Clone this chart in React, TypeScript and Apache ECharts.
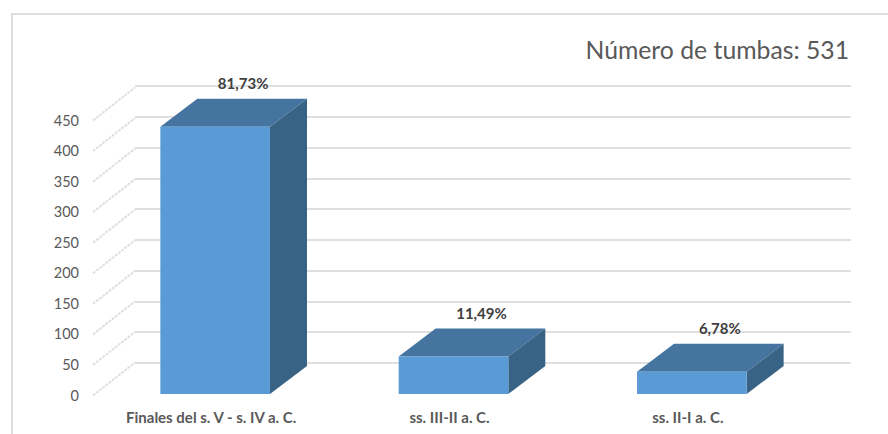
import React, { useEffect, useRef } from "react";
import * as echarts from "echarts";

const categories = ["Finales del s. V - s. IV a. C.", "ss. III-II a. C.", "ss. II-I a. C."];
const tumbas = [434, 61, 36];
const percentLabels = ["81,73%", "11,49%", "6,78%"];
const titleText = "Número de tumbas: 531";
const yTicks = [0, 50, 100, 150, 200, 250, 300, 350, 400, 450];

const FONT = "Lato, 'Open Sans', sans-serif";
const TEXT = "#595959";
const FRONT = "#5b9bd5";
const TOP = "#44749f";
const SIDE = "#396385";
const GRID = "#e0e0e0";

// Oblique offset of the bar boxes and of the floor/wall diagonals.
const BAR_DX = 37;
const BAR_DY = 28;
const BAR_RATIO = 0.46;

export default function App() {
  const ref = useRef<HTMLDivElement>(null);

  useEffect(() => {
    const chart = echarts.init(ref.current!, undefined, { renderer: "svg" });

    const renderBar = (params: any, api: any) => {
      const i = api.value(0);
      const [cx, yTop] = api.coord([i, api.value(1)]);
      const [, yBase] = api.coord([i, 0]);
      const w = api.size([1, 0])[0] * BAR_RATIO;
      const l = cx - w / 2;
      const r = cx + w / 2;
      return {
        type: "group",
        children: [
          {
            type: "polygon",
            shape: { points: [[l, yTop], [r, yTop], [r + BAR_DX, yTop - BAR_DY], [l + BAR_DX, yTop - BAR_DY]] },
            style: { fill: TOP },
          },
          {
            type: "polygon",
            shape: { points: [[r, yTop], [r + BAR_DX, yTop - BAR_DY], [r + BAR_DX, yBase - BAR_DY], [r, yBase]] },
            style: { fill: SIDE },
          },
          { type: "rect", shape: { x: l, y: yTop, width: w, height: yBase - yTop }, style: { fill: FRONT } },
          {
            type: "text",
            style: {
              x: cx + 28,
              y: yTop - 43.5,
              text: percentLabels[params.dataIndex],
              align: "center",
              verticalAlign: "middle",
              font: `bold 15px ${FONT}`,
              fill: "#404040",
            },
          },
        ],
      };
    };

    const renderDiagonal = (params: any, api: any) => {
      const y = api.coord([0, api.value(0)])[1];
      const x = params.coordSys.x;
      return {
        type: "line",
        shape: { x1: x - 3, y1: y + 0.5, x2: x + 39, y2: y - 32.5 },
        style: { stroke: GRID, lineWidth: 2, lineDash: [3, 1] },
      };
    };

    chart.setOption({
      animation: false,
      backgroundColor: "#ffffff",
      title: {
        text: titleText,
        right: 34,
        top: 32,
        textStyle: { fontFamily: FONT, fontSize: 24.75, fontWeight: "normal", color: TEXT },
      },
      // Front plane with the tick labels, back wall with the gridlines, and the plane the boxes stand on.
      grid: [
        { left: 96, right: 77, top: 120, bottom: 39 },
        { left: 135, right: 37, top: 86, bottom: 71 },
        { left: 96, right: 77, top: 117, bottom: 40 },
      ],
      xAxis: [
        {
          type: "category",
          data: categories,
          gridIndex: 0,
          axisLine: { show: false },
          axisTick: { show: false },
          axisLabel: {
            margin: 14,
            padding: [0, 8, 0, 0],
            alignMinLabel: "center",
            alignMaxLabel: "center",
            fontFamily: FONT,
            fontSize: 15,
            fontWeight: "bold",
            color: TEXT,
            interval: 0,
          },
        },
        { type: "category", data: categories, gridIndex: 1, show: false },
        { type: "category", data: categories, gridIndex: 2, show: false },
      ],
      yAxis: [
        {
          type: "value",
          gridIndex: 0,
          min: 0,
          max: 450,
          interval: 50,
          axisLine: { show: false },
          axisTick: { show: false },
          splitLine: { show: false },
          axisLabel: { margin: 17, fontFamily: FONT, fontSize: 14.5, color: TEXT },
        },
        {
          type: "value",
          gridIndex: 1,
          min: 0,
          max: 450,
          interval: 50,
          axisLine: { show: false },
          axisTick: { show: false },
          axisLabel: { show: false },
          splitLine: { show: true, lineStyle: { color: GRID, width: 2 } },
        },
        { type: "value", gridIndex: 2, min: 0, max: 450, interval: 50, show: false },
      ],
      series: [
        {
          type: "custom",
          xAxisIndex: 0,
          yAxisIndex: 0,
          z: 1,
          silent: true,
          data: yTicks.map((t) => [t]),
          encode: { y: 0 },
          renderItem: renderDiagonal,
        },
        {
          type: "custom",
          xAxisIndex: 2,
          yAxisIndex: 2,
          z: 2,
          data: tumbas.map((v, i) => [i, v]),
          encode: { x: 0, y: 1 },
          renderItem: renderBar,
        },
      ],
      graphic: [
        { type: "line", shape: { x1: 12, y1: 14, x2: 888, y2: 14 }, style: { stroke: "#dedede", lineWidth: 2 } },
        { type: "line", shape: { x1: 12, y1: 13, x2: 12, y2: 434 }, style: { stroke: "#dedede", lineWidth: 2 } },
      ],
    });

    return () => chart.dispose();
  }, []);

  return <div ref={ref} style={{ position: "fixed", left: 0, top: 0, width: 888, height: 434 }} />;
}
